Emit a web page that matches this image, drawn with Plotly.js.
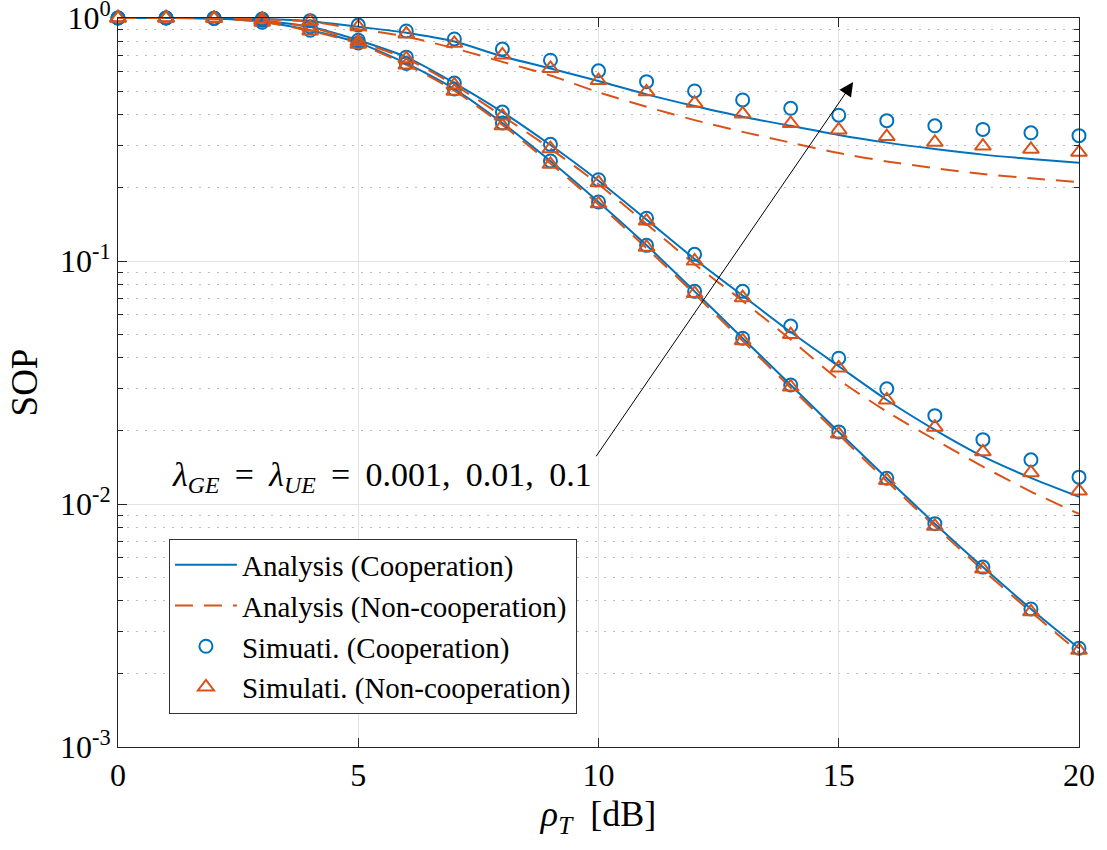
<!DOCTYPE html>
<html>
<head>
<meta charset="utf-8">
<script src="https://cdn.plot.ly/plotly-3.0.1.min.js"></script>
<style>
  html, body { margin: 0; padding: 0; background: #ffffff; }
  #chart { width: 1107px; height: 850px; }
</style>
</head>
<body>
<div id="chart"></div>
<script>
// Transmit SNR rho_T in dB
const rhoT = [0, 1, 2, 3, 4, 5, 6, 7, 8, 9, 10, 11, 12, 13, 14, 15, 16, 17, 18, 19, 20];

// lambda_GE = lambda_UE = 0.001
const anaCoop001 = [1.0, 1.0, 0.995, 0.965, 0.89, 0.79, 0.65, 0.51, 0.37, 0.258, 0.175, 0.116, 0.075, 0.0481, 0.0309, 0.0198, 0.01276, 0.0083, 0.0055, 0.0037, 0.00255];
const anaNon001  = [1.0, 1.0, 0.995, 0.963, 0.885, 0.782, 0.642, 0.502, 0.363, 0.252, 0.171, 0.113, 0.0732, 0.0469, 0.0301, 0.0193, 0.0124, 0.0081, 0.00535, 0.0036, 0.00245];
const simCoop001 = [1.0, 1.0, 0.995, 0.96, 0.89, 0.79, 0.65, 0.51, 0.37, 0.258, 0.175, 0.116, 0.075, 0.0481, 0.0309, 0.0198, 0.01276, 0.0083, 0.0055, 0.0037, 0.00255];
const simNon001  = [1.0, 1.0, 0.995, 0.96, 0.885, 0.78, 0.64, 0.50, 0.36, 0.25, 0.172, 0.114, 0.0735, 0.047, 0.0303, 0.0194, 0.0125, 0.0081, 0.0054, 0.0036, 0.0025];

// lambda_GE = lambda_UE = 0.01
const anaCoop01 = [1.0, 1.0, 0.997, 0.975, 0.92, 0.81, 0.69, 0.54, 0.41, 0.30, 0.214, 0.148, 0.102, 0.072, 0.051, 0.0369, 0.0268, 0.0202, 0.0157, 0.0128, 0.0107];
const anaNon01  = [1.0, 1.0, 0.997, 0.973, 0.915, 0.80, 0.68, 0.53, 0.395, 0.29, 0.207, 0.142, 0.097, 0.0685, 0.0475, 0.0325, 0.024, 0.0184, 0.01425, 0.01125, 0.0091];
const simCoop01 = [1.0, 1.0, 0.997, 0.98, 0.92, 0.81, 0.69, 0.54, 0.41, 0.302, 0.216, 0.150, 0.1065, 0.075, 0.054, 0.0398, 0.0298, 0.0231, 0.0184, 0.0152, 0.0129];
const simNon01  = [1.0, 1.0, 0.997, 0.975, 0.915, 0.80, 0.68, 0.53, 0.395, 0.29, 0.21, 0.146, 0.1, 0.0706, 0.0498, 0.0363, 0.0268, 0.0207, 0.0164, 0.01346, 0.0113];

// lambda_GE = lambda_UE = 0.1
const anaCoop1 = [1.0, 1.0, 0.998, 0.99, 0.97, 0.92, 0.87, 0.80, 0.695, 0.62, 0.55, 0.485, 0.434, 0.392, 0.36, 0.33, 0.307, 0.289, 0.274, 0.263, 0.254];
const anaNon1  = [1.0, 1.0, 0.998, 0.988, 0.965, 0.90, 0.838, 0.75, 0.66, 0.58, 0.495, 0.431, 0.38, 0.34, 0.307, 0.278, 0.257, 0.241, 0.228, 0.219, 0.211];
const simCoop1 = [1.0, 1.0, 0.998, 0.99, 0.975, 0.935, 0.884, 0.82, 0.745, 0.67, 0.606, 0.547, 0.501, 0.46, 0.425, 0.398, 0.378, 0.36, 0.348, 0.337, 0.328];
const simNon1  = [1.0, 1.0, 0.998, 0.99, 0.97, 0.92, 0.86, 0.787, 0.705, 0.62, 0.553, 0.497, 0.446, 0.403, 0.368, 0.346, 0.325, 0.308, 0.297, 0.288, 0.28];

// Legend labels
const legendNames = [
  'Analysis (Cooperation)',
  'Analysis (Non-cooperation)',
  'Simuati. (Cooperation)',
  'Simulati. (Non-cooperation)'
];

// Axis tick labels
const xTicks = [0, 5, 10, 15, 20];
const yTicks = [0.001, 0.01, 0.1, 1];
const yTickText = ['10<sup>-3</sup>', '10<sup>-2</sup>', '10<sup>-1</sup>', '10<sup>0</sup>'];

const blue = '#0072BD';
const orange = '#D95319';
const serif = 'Liberation Serif, Times New Roman, serif';

const groups = [
  { ac: anaCoop001, an: anaNon001, sc: simCoop001, sn: simNon001 },
  { ac: anaCoop01,  an: anaNon01,  sc: simCoop01,  sn: simNon01 },
  { ac: anaCoop1,   an: anaNon1,   sc: simCoop1,   sn: simNon1 }
];

const traces = [];
groups.forEach((g, i) => {
  const first = i === 0;
  traces.push({
    x: rhoT, y: g.ac, type: 'scatter', mode: 'lines', cliponaxis: false,
    line: { color: blue, width: 2, shape: 'spline', smoothing: 0.8 },
    name: legendNames[0], legendgroup: 'a', showlegend: first
  });
  traces.push({
    x: rhoT, y: g.an, type: 'scatter', mode: 'lines', cliponaxis: false,
    line: { color: orange, width: 2, dash: '18px,11px', shape: 'spline', smoothing: 0.8 },
    name: legendNames[1], legendgroup: 'b', showlegend: first
  });
});
groups.forEach((g, i) => {
  const first = i === 0;
  traces.push({
    x: rhoT, y: g.sc, type: 'scatter', mode: 'markers', cliponaxis: false,
    marker: { symbol: 'circle-open', size: 13, color: blue, line: { width: 2, color: blue } },
    name: legendNames[2], legendgroup: 'c', showlegend: first
  });
  traces.push({
    x: rhoT, y: g.sn, type: 'scatter', mode: 'markers', cliponaxis: false,
    marker: { symbol: 'triangle-up-open', size: 14, color: orange, line: { width: 2, color: orange } },
    name: legendNames[3], legendgroup: 'd', showlegend: first
  });
});

// Minor log grid positions (2..9 within each decade)
const minorVals = [];
[0.001, 0.01, 0.1].forEach(d => { for (let k = 2; k <= 9; k++) minorVals.push(k * d); });

const layout = {
  width: 1107, height: 850,
  margin: { l: 118, r: 28, t: 18, b: 103 },
  paper_bgcolor: '#ffffff', plot_bgcolor: '#ffffff',
  font: { family: serif, color: '#000000', size: 30 },
  showlegend: true,
  legend: {
    x: 0.053, y: 0.286, xanchor: 'left', yanchor: 'top',
    bgcolor: '#ffffff', bordercolor: '#333333', borderwidth: 1,
    font: { family: serif, size: 29, color: '#000000' },
    traceorder: 'grouped', tracegroupgap: 0, itemwidth: 62
  },
  xaxis: {
    range: [0, 20], tickvals: xTicks, ticktext: xTicks.map(String),
    ticks: 'inside', ticklen: 9, tickcolor: '#262626', tickwidth: 1,
    showline: true, linecolor: '#262626', linewidth: 1, mirror: 'ticks',
    showgrid: true, gridcolor: '#e3e3e3', gridwidth: 1, zeroline: false,
    ticklabeloverflow: 'allow',
    tickfont: { family: serif, size: 32, color: '#000000' },
    title: { text: '<i>ρ</i><sub><i>T</i></sub>  [dB]', font: { family: serif, size: 36 }, standoff: 8 }
  },
  yaxis: {
    type: 'log', range: [-3, 0], tickvals: yTicks, ticktext: yTickText,
    ticks: 'inside', ticklen: 9, tickcolor: '#262626', tickwidth: 1,
    showline: true, linecolor: '#262626', linewidth: 1, mirror: 'ticks',
    showgrid: true, gridcolor: '#e3e3e3', gridwidth: 1, zeroline: false,
    ticklabeloverflow: 'allow',
    tickfont: { family: serif, size: 32, color: '#000000' },
    minor: {
      tickmode: 'array', tickvals: minorVals, ticks: 'inside', ticklen: 5,
      tickcolor: '#262626', showgrid: true, gridcolor: '#bdbdbd', griddash: '2px,7px', gridwidth: 1
    },
    title: { text: 'SOP', font: { family: serif, size: 37 }, standoff: 10 }
  },
  annotations: [
    {
      // arrow indicating increasing lambda
      x: 15.3, y: Math.log10(0.545), xref: 'x', yref: 'y',
      ax: 9.93, ay: Math.log10(0.0155), axref: 'x', ayref: 'y',
      text: '', showarrow: true, arrowhead: 2, arrowsize: 2.8, arrowwidth: 1, arrowcolor: '#000000'
    },
    {
      x: 9.9, y: Math.log10(0.0129), xref: 'x', yref: 'y',
      xanchor: 'right', yanchor: 'middle', showarrow: false,
      text: '<i>λ</i><sub><i>GE</i></sub> \u2009=\u2009 <i>λ</i><sub><i>UE</i></sub> \u2009=\u2009 0.001,\u2009 0.01,\u2009 0.1',
      font: { family: serif, size: 34, color: '#000000' }
    }
  ]
};

Plotly.newPlot('chart', traces, layout, { staticPlot: true, displayModeBar: false });
</script>
</body>
</html>
